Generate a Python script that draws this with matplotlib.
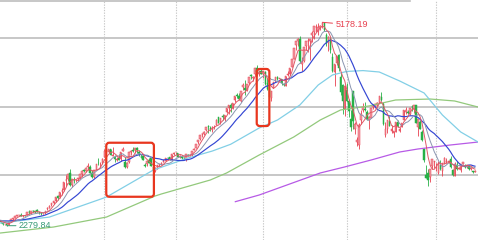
import numpy as np
import pandas as pd
import matplotlib
matplotlib.use("Agg")
import matplotlib.pyplot as plt
from matplotlib.patches import FancyBboxPatch
from matplotlib.transforms import IdentityTransform

plt.rcParams['font.family'] = ['Liberation Sans', 'DejaVu Sans']

# Shanghai Composite, daily bars 22 Oct 2014 - 30 Sep 2015
# trading days per month, Oct 2014 .. Sep 2015
month_days = [8, 20, 23, 20, 15, 22, 21, 20, 21, 23, 21, 20]

# closes before the first bar, only used to warm up MA5/10/20
pre_closes = [2315, 2329, 2290, 2323, 2343, 2345, 2347, 2357, 2364, 2382,
              2390, 2374, 2366, 2359, 2374, 2357, 2341, 2357, 2340]

opens = [
    # Oct
    2340, 2324, 2300, 2301, 2291, 2340, 2372, 2394,
    # Nov
    2423, 2428, 2432, 2416, 2424, 2434, 2480, 2467, 2495, 2483, 2510, 2474, 2454, 2446, 2455, 2520, 2533, 2569, 2607, 2630,
    # Dec
    2698, 2682, 2770, 2784, 2930, 2950, 3025, 2853, 2930, 2924, 2940, 2957, 3010, 3070, 3060, 3117, 3120, 3035, 2977, 3080, 3170, 3165, 3175,
    # Jan
    3258, 3330, 3326, 3371, 3276, 3258, 3223, 3243, 3224, 3343, 3189, 3114, 3189, 3327, 3357, 3360, 3390, 3325, 3264, 3273,
    # Feb
    3148, 3156, 3221, 3251, 3120, 3064, 3093, 3145, 3155, 3186, 3206, 3250, 3256, 3222, 3301,
    # Mar
    3332, 3317, 3264, 3264, 3250, 3225, 3294, 3289, 3281, 3359, 3391, 3469, 3512, 3580, 3585, 3640, 3701, 3677, 3638, 3682, 3710, 3822,
    # Apr
    3755, 3850, 3803, 3899, 3960, 3993, 3955, 4073, 4136, 4131, 4060, 4254, 4243, 4211, 4312, 4421, 4387, 4441, 4528, 4447, 4483,
    # May
    4439, 4471, 4313, 4224, 4097, 4238, 4353, 4401, 4374, 4367, 4304, 4272, 4427, 4436, 4541, 4660, 4854, 4915, 4943, 4584,
    # Jun
    4633, 4845, 4909, 4912, 5000, 5045, 5113, 5049, 5101, 5144, 5174, 5004, 4890, 4942, 4689, 4471, 4605, 4711, 4399, 4289, 3940,
    # Jul
    4214, 4058, 3794, 4203, 3655, 3467, 3432, 3783, 3924, 3943, 3900, 3788, 3817, 3976, 3968, 3994, 4029, 4112, 4008, 3573, 3664, 3778, 3626,
    # Aug
    3602, 3621, 3752, 3633, 3687, 3786, 3907, 3903, 3869, 3976, 3936, 3999, 3683, 3755, 3609, 3373, 3005, 3033, 2978, 3125, 3185,
    # Sep
    3158, 3028, 3149, 3055, 3178, 3190, 3189, 3237, 3071, 2994, 3139, 3094, 3072, 3160, 3137, 3120, 3137, 3092, 3064, 3047,
]

highs = [
    2345, 2330, 2310, 2304, 2338, 2376, 2394, 2423,
    2437, 2437, 2455, 2428, 2434, 2480, 2508, 2495, 2502, 2490, 2520, 2482, 2460, 2460, 2490, 2540, 2568, 2605, 2636, 2685,
    2724, 2766, 2813, 2900, 3000, 3021, 3091, 2940, 2971, 2949, 2957, 3022, 3074, 3090, 3120, 3177, 3140, 3080, 3073, 3157, 3239, 3190, 3239,
    3369, 3394, 3374, 3374, 3404, 3282, 3260, 3298, 3337, 3400, 3262, 3190, 3329, 3352, 3406, 3383, 3398, 3353, 3300, 3288,
    3175, 3207, 3240, 3251, 3142, 3119, 3143, 3166, 3181, 3237, 3251, 3254, 3259, 3298, 3325,
    3336, 3317, 3286, 3286, 3265, 3304, 3301, 3306, 3349, 3394, 3449, 3503, 3578, 3600, 3632, 3688, 3715, 3694, 3703, 3710, 3795, 3835,
    3817, 3866, 3864, 3961, 4000, 4028, 4034, 4128, 4168, 4174, 4195, 4317, 4356, 4293, 4399, 4444, 4418, 4529, 4572, 4499, 4507,
    4480, 4489, 4391, 4245, 4205, 4333, 4401, 4414, 4388, 4369, 4317, 4418, 4491, 4530, 4657, 4814, 4911, 4958, 4986, 4677,
    4829, 4911, 4951, 4947, 5052, 5131, 5147, 5164, 5139, 5178.19, 5176, 5029, 4985, 4966, 4744, 4577, 4691, 4720, 4456, 4297, 4287,
    4317, 4080, 3927, 4203, 3758, 3547, 3748, 3929, 4030, 4036, 3935, 3849, 3963, 4000, 4017, 4043, 4132, 4184, 4049, 3757, 3789, 3836, 3719,
    3626, 3757, 3782, 3685, 3746, 3929, 3970, 3932, 3955, 4006, 3994, 4006, 3805, 3790, 3641, 3389, 3140, 3092, 3084, 3233, 3207,
    3180, 3200, 3217, 3171, 3256, 3243, 3223, 3270, 3086, 3182, 3200, 3122, 3156, 3186, 3159, 3150, 3144, 3106, 3064, 3073,
]

lows = [
    2322, 2296, 2292, 2279.84, 2289, 2336, 2365, 2390,
    2414, 2417, 2416, 2402, 2413, 2430, 2440, 2450, 2477, 2466, 2469, 2452, 2438, 2440, 2450, 2510, 2525, 2560, 2590, 2620,
    2646, 2677, 2716, 2778, 2850, 2920, 2840, 2835, 2890, 2900, 2915, 2950, 2980, 3040, 3045, 3080, 3030, 2960, 2955, 3070, 3140, 3120, 3160,
    3253, 3303, 3312, 3285, 3267, 3191, 3207, 3214, 3207, 3340, 3095, 3100, 3178, 3282, 3334, 3318, 3312, 3280, 3238, 3210,
    3122, 3131, 3172, 3135, 3052, 3049, 3084, 3137, 3142, 3182, 3202, 3233, 3216, 3209, 3291,
    3298, 3260, 3250, 3234, 3214, 3204, 3274, 3277, 3266, 3354, 3382, 3448, 3500, 3549, 3570, 3635, 3600, 3636, 3616, 3653, 3710, 3744,
    3722, 3792, 3769, 3891, 3869, 3905, 3940, 4044, 4098, 4072, 4036, 4219, 4142, 4195, 4302, 4373, 4346, 4434, 4420, 4409, 4436,
    4385, 4291, 4207, 4099, 4055, 4238, 4325, 4353, 4339, 4290, 4268, 4267, 4413, 4427, 4541, 4659, 4790, 4834, 4597, 4481,
    4616, 4785, 4756, 4647, 4898, 4942, 5036, 5001, 5063, 5100, 5048, 4842, 4767, 4742, 4476, 4264, 4571, 4483, 4140, 3875, 3847,
    4043, 3828, 3630, 3654, 3583, 3422, 3373, 3728, 3900, 3908, 3791, 3661, 3815, 3941, 3952, 3986, 4029, 4057, 3720, 3537, 3601, 3700, 3606,
    3538, 3611, 3688, 3615, 3681, 3786, 3873, 3871, 3857, 3919, 3892, 3743, 3558, 3663, 3491, 3191, 2953, 2850, 2906, 3085, 3109,
    3053, 3020, 3079, 2983, 3155, 3178, 3176, 3098, 2983, 2994, 3078, 3082, 3052, 3155, 3102, 3107, 3075, 3070, 3025, 3039,
]

closes = [
    2327, 2302, 2302, 2290, 2337, 2373, 2391, 2420,
    2430, 2430, 2419, 2425, 2418, 2473, 2469, 2494, 2485, 2478, 2474, 2456, 2450, 2452, 2487, 2532, 2567, 2604, 2630, 2683,
    2680, 2763, 2779, 2899, 2937, 3020, 2856, 2940, 2925, 2938, 2953, 3021, 3061, 3057, 3108, 3128, 3032, 2977, 3073, 3157, 3168, 3165, 3234,
    3351, 3352, 3373, 3293, 3285, 3229, 3235, 3222, 3336, 3376, 3116, 3173, 3323, 3343, 3351, 3383, 3352, 3305, 3262, 3210,
    3128, 3204, 3175, 3136, 3076, 3095, 3141, 3157, 3173, 3203, 3247, 3246, 3228, 3298, 3310,
    3336, 3263, 3280, 3248, 3241, 3302, 3286, 3290, 3349, 3373, 3449, 3503, 3577, 3582, 3617, 3687, 3691, 3660, 3682, 3691, 3786, 3748,
    3810, 3825, 3863, 3961, 3995, 3957, 4034, 4121, 4135, 4084, 4194, 4287, 4217, 4293, 4398, 4414, 4393, 4527, 4476, 4476, 4441,
    4480, 4298, 4229, 4112, 4205, 4333, 4401, 4375, 4378, 4308, 4283, 4418, 4446, 4530, 4657, 4813, 4910, 4942, 4620, 4611,
    4828, 4910, 4910, 4947, 5023, 5131, 5113, 5106, 5121, 5166, 5062, 4887, 4967, 4786, 4478, 4577, 4691, 4527, 4192, 4053, 4277,
    4054, 3912, 3687, 3775, 3728, 3507, 3710, 3878, 3970, 3924, 3805, 3823, 3958, 3993, 4017, 4026, 4124, 4071, 3725, 3663, 3789, 3705, 3664,
    3623, 3756, 3695, 3661, 3744, 3928, 3928, 3887, 3955, 3965, 3994, 3749, 3794, 3664, 3508, 3210, 2965, 2928, 3084, 3232, 3206,
    3166, 3160, 3081, 3170, 3243, 3197, 3200, 3115, 3005, 3152, 3086, 3097, 3156, 3185, 3116, 3143, 3092, 3101, 3038, 3053,
]

# long moving averages (bar index, value)
ma60_idx = [0, 24, 52, 75, 92, 104, 113, 127, 136, 147, 156, 163, 170, 178, 186, 196, 208, 217, 226, 234.5]
ma60_val = [2318, 2403, 2688, 3073, 3244, 3344, 3440, 3672, 3786, 4000, 4285, 4428, 4478, 4490, 4470, 4342, 4171, 3857, 3615, 3472]
ma120_idx = [0, 26, 52, 76, 79, 103, 111, 127, 144, 157, 167, 181, 194, 211, 223, 234.5]
ma120_val = [2176, 2261, 2403, 2704, 2732, 2931, 3031, 3287, 3544, 3786, 3929, 3986, 4071, 4085, 4057, 3971]
ma250_idx = [115.3, 127, 142, 157, 169, 182, 196, 205, 221, 234.5]
ma250_val = [2622, 2717, 2874, 3031, 3117, 3216, 3330, 3373, 3430, 3472]

grid_levels = [3006, 3978, 4950]
top_level = 5483
highlight_boxes = [(51.9, 75.3, 2692, 3462), (125.8, 132.0, 3700, 4513)]

o, h, l, c = (np.array(v, dtype=float) for v in (opens, highs, lows, closes))
x = np.arange(len(c))
all_c = pd.Series(pre_closes + closes, dtype=float)
ma = {n: all_c.rolling(n).mean().to_numpy()[len(pre_closes):] for n in (5, 10, 20)}

fig = plt.figure(figsize=(4.78, 2.4), dpi=100)
ax = fig.add_axes([0, 0, 1, 1])
ax.set_xlim(-0.29, 234.48)
ax.set_ylim(2076, 5496)
ax.axis('off')

for lvl in grid_levels:
    ax.axhline(lvl, color='#bdbdbd', lw=1.2, zorder=0)
ax.axhline(top_level, xmax=410 / 478, color='#bdbdbd', lw=1.2, zorder=0)

starts = np.concatenate([[0], np.cumsum(month_days)[:-1]])
for m in (3, 5, 7, 9, 11):
    ax.axvline(starts[m], color='#c8c8c8', lw=0.8, ls=(0, (1.2, 1.2)), zorder=0)

up = c >= o
red, pink, green = '#e8404f', '#f29aa4', '#27b046'
ax.vlines(x[up], l[up], h[up], color=red, lw=0.6, zorder=2)
ax.vlines(x[~up], l[~up], h[~up], color=green, lw=0.6, zorder=2)
ax.bar(x[up], c[up] - o[up], bottom=o[up], width=0.75, color=pink,
       edgecolor=red, lw=0.35, zorder=2)
ax.bar(x[~up], o[~up] - c[~up], bottom=c[~up], width=0.75, color=green,
       edgecolor=green, lw=0.35, zorder=2)

ax.plot(ma250_idx, ma250_val, color='#b75ae6', lw=0.9, zorder=3)
ax.plot(ma120_idx, ma120_val, color='#93c97c', lw=0.9, zorder=3)
ax.plot(ma60_idx, ma60_val, color='#82cfe6', lw=0.9, zorder=3)
ax.plot(x, ma[20], color='#3446d3', lw=0.85, zorder=3)
ax.plot(x, ma[10], color='#8a95b0', lw=0.7, zorder=3)
ax.plot(x, ma[5], color='#e05866', lw=0.7, zorder=3)

hi = int(np.argmax(h))
lo = int(np.argmin(l))
ax.annotate(f'{h[hi]:.2f}', xy=(hi, h[hi]), xytext=(13, -2.5),
            textcoords='offset pixels', ha='left', va='center', fontsize=6.5,
            color='#e8404f',
            arrowprops=dict(arrowstyle='-', color='#e8404f', lw=0.7,
                            shrinkA=0, shrinkB=0))
ax.annotate(f'{l[lo]:.2f}', xy=(lo, l[lo]), xytext=(12, 0),
            textcoords='offset pixels', ha='left', va='center', fontsize=6.5,
            color='#379a76',
            arrowprops=dict(arrowstyle='-', color='#379a76', lw=0.7,
                            shrinkA=0, shrinkB=0))

# red highlight frames, drawn in pixel space so the corners stay round
for x0, x1, y0, y1 in highlight_boxes:
    (px0, py0), (px1, py1) = ax.transData.transform([(x0, y0), (x1, y1)])
    ax.add_patch(FancyBboxPatch((px0, py0), px1 - px0, py1 - py0,
                                boxstyle='round,pad=0,rounding_size=3',
                                transform=IdentityTransform(), fill=False,
                                ec='#e8361e', lw=1.6, zorder=4))

fig.savefig('out.png', dpi=100, facecolor='white')
